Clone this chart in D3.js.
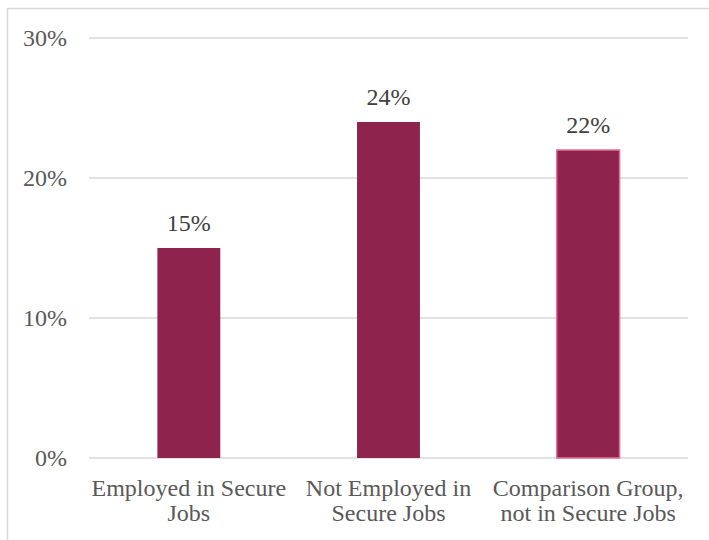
<!DOCTYPE html>
<html><head><meta charset="utf-8">
<script src="https://cdn.jsdelivr.net/npm/d3@7"></script>
</head><body style="margin:0">
<svg id="c" width="709" height="540" font-family="Liberation Serif" style="font-family:'Liberation Serif'"></svg>
<script>
const categories = [["Employed in Secure","Jobs"],["Not Employed in","Secure Jobs"],["Comparison Group,","not in Secure Jobs"]];
const values = [0.15, 0.24, 0.22];
const tickValues = [0, 0.1, 0.2, 0.3];

(function(){
const svg = d3.select("#c");
const mLeft = 89, mRight = 688, mTop = 38, mBottom = 458;
svg.append("rect").attr("x",7.5).attr("y",8.5).attr("width",720).attr("height",560)
  .attr("fill","none").attr("stroke","#d9d9d9").attr("stroke-width",1.5);

const x = d3.scaleBand().domain(d3.range(values.length)).range([mLeft,mRight]).paddingInner(0.685).paddingOuter(0.3425);
const y = d3.scaleLinear().domain([0,0.3]).range([mBottom,mTop]);

svg.append("g").selectAll("line").data(tickValues).join("line")
  .attr("x1",mLeft).attr("x2",mRight).attr("y1",d=>y(d)).attr("y2",d=>y(d))
  .attr("stroke","#d9d9d9").attr("stroke-width",1.5);

svg.append("g").selectAll("text").data(tickValues).join("text")
  .attr("x",67).attr("y",d=>y(d)+7.5).attr("text-anchor","end")
  .style("font-family",d=>'"Liberation Serif"').style("font-size","24px").attr("fill","#595959")
  .text(d3.format(".0%"));

svg.append("g").selectAll("rect").data(values).join("rect")
  .attr("x",(d,i)=>x(i)).attr("width",x.bandwidth())
  .attr("y",d=>y(d)).attr("height",d=>mBottom-y(d))
  .attr("fill","#8e244d")
  .attr("stroke",(d,i)=>i===2?"#e0709a":"none").attr("stroke-width",1.5);

svg.append("g").selectAll("text").data(values).join("text")
  .attr("x",(d,i)=>x(i)+x.bandwidth()/2).attr("y",d=>y(d)-17)
  .attr("text-anchor","middle").style("font-family",d=>'"Liberation Serif"').style("font-size","24px").attr("fill","#404040")
  .text(d3.format(".0%"));

const cl = svg.append("g").selectAll("text").data(categories).join("text")
  .attr("x",(d,i)=>x(i)+x.bandwidth()/2).attr("y",495.5)
  .attr("text-anchor","middle").style("font-family",d=>'"Liberation Serif"').style("font-size","24px").attr("fill","#595959");
cl.selectAll("tspan").data(d=>d).join("tspan")
  .attr("x",function(){return this.parentNode.getAttribute("x");})
  .attr("dy",(d,j)=>j===0?0:25.5).text(d=>d);
})();
</script>
</body></html>
